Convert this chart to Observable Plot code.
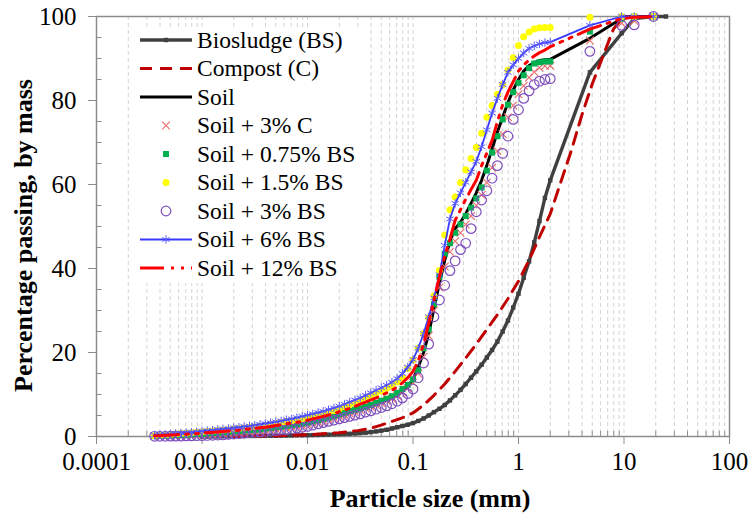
<!DOCTYPE html>
<html><head><meta charset="utf-8">
<script src="https://cdn.jsdelivr.net/npm/d3@7"></script>
<script src="https://cdn.jsdelivr.net/npm/@observablehq/plot@0.6"></script>
<style>
body{margin:0;background:#fff;}
#wrap{position:relative;width:751px;height:518px;font-family:'Liberation Serif','Times New Roman',serif;}
#wrap svg, #wrap svg text{font-family:'Liberation Serif','Times New Roman',serif !important;}
#legend{position:absolute;left:130px;top:27px;}
</style></head><body><div id="wrap"></div>
<script>
// ---- DATA ----
// laser-diffraction particle sizes (mm)
const lsSize = [0.000355,0.000398,0.000447,0.000501,0.000562,0.000631,0.000708,0.000794,0.000891,0.001,
 0.00112,0.00126,0.00141,0.00158,0.00178,0.002,0.00224,0.00251,0.00282,0.00316,
 0.00355,0.00398,0.00447,0.00501,0.00562,0.00631,0.00708,0.00794,0.00891,0.01,
 0.0112,0.0126,0.0141,0.0158,0.0178,0.02,0.0224,0.0251,0.0282,0.0316,
 0.0355,0.0398,0.0447,0.0501,0.0562,0.0631,0.0708,0.0794,0.0891,0.1,
 0.112,0.126,0.141,0.158,0.178,0.2,0.224,0.251,0.282,0.316,
 0.355,0.398,0.447,0.501,0.562,0.631,0.708,0.794,0.891,1,
 1.12,1.26,1.41,1.58,1.78,2.0];
const sieveSize = [4.75, 9.5, 12.5, 19];

const bsSize = lsSize.slice(9);
const bsLaser = [0,0,0.02,0.03,0.05,0.06,0.08,0.1,0.11,0.12,
 0.13,0.14,0.15,0.17,0.18,0.2,0.22,0.24,0.26,0.28,
 0.3,0.33,0.36,0.4,0.45,0.5,0.55,0.6,0.65,0.72,
 0.8,0.9,1.05,1.2,1.4,1.6,1.9,2.2,2.5,2.8,
 3.2,3.7,4.3,5.0,5.8,6.6,7.5,8.6,9.8,11.1,
 12.5,14.0,15.5,17.1,18.8,20.6,22.6,25.0,27.6,30.7,
 34.0,37.8,41.7,46.2,51.3,56.8,61.0];
const bsSieveSize = [4.75, 9.5, 12.5, 19, 25];
const bsSieve = [86.7, 96.0, 99.5, 100, 100];

const compSize = [0.002,0.003,0.005,0.01,0.02,0.03,0.04,0.05,0.06,0.08,0.1,0.126,0.158,0.2,0.251,0.316,0.398,0.501,0.631,0.794,1,1.26,1.58,2,2.51,3.16,3.98,5.01,6.31,7.94,10,12.5,19];
const compVal = [0,0.1,0.2,0.4,0.9,1.4,2.0,2.7,3.4,4.5,5.6,7.5,9.8,12.5,15.5,18.7,22,25.5,29,32.8,37,42,47.5,53,60.5,68,76.5,84,90.5,97,100,100,100];

const soilLaser = [0.1,0.1,0.15,0.2,0.25,0.3,0.35,0.4,0.45,0.5,
 0.6,0.7,0.8,0.9,1.0,1.1,1.2,1.3,1.4,1.5,
 1.6,1.7,1.9,2.0,2.2,2.3,2.5,2.7,2.9,3.1,
 3.4,3.7,4.0,4.3,4.6,5.0,5.3,5.7,6.0,6.4,
 6.8,7.2,7.6,8.1,8.6,9.1,9.8,10.7,12.0,13.5,
 16.5,20.0,24.5,30.5,36.5,42.0,46.5,49.5,51.0,53.0,
 55.5,58.0,61.0,64.5,68.5,72.5,76.0,79.5,82.5,85.0,
 87.0,88.3,89.0,89.5,89.7,89.8];
const soilSieve = [94.8, 99.5, 100, 100];

const c3Laser = [0.1,0.1,0.15,0.2,0.2,0.25,0.3,0.35,0.4,0.45,
 0.5,0.55,0.6,0.7,0.8,0.9,1.0,1.1,1.2,1.3,
 1.4,1.5,1.7,1.8,2.0,2.1,2.3,2.5,2.7,2.9,
 3.2,3.5,3.8,4.1,4.4,4.8,5.1,5.5,5.9,6.3,
 6.7,7.1,7.5,8.0,8.5,9.0,9.7,10.5,11.5,12.8,
 15.0,19.0,24.0,30.0,35.5,40.5,44.0,46.5,48.5,50.5,
 52.5,55.0,57.5,60.5,64.0,68.0,72.0,76.0,78.8,81.5,
 83.5,85.5,86.8,87.8,88.2,88.3];
const c3Sieve = [94.3, 98.4, 99.0, 100];

const bs075Laser = [0.1,0.15,0.2,0.25,0.3,0.35,0.4,0.5,0.55,0.6,
 0.7,0.8,0.9,1.0,1.1,1.2,1.3,1.4,1.5,1.6,
 1.7,1.9,2.0,2.2,2.3,2.5,2.7,2.9,3.1,3.3,
 3.6,3.9,4.2,4.5,4.9,5.3,5.7,6.1,6.4,6.7,
 7.1,7.5,8.0,8.5,9.0,9.6,10.4,11.3,12.3,13.6,
 15.8,21.0,25.5,31.5,38.0,43.5,46.0,48.5,50.5,52.5,
 54.5,56.7,59.3,63.3,67.6,71.5,75.5,79.0,82.0,84.2,
 86.0,87.7,88.8,89.1,89.3,89.3];
const bs075Sieve = [96.4, 99.5, 100, 100];

const bs15Laser = [0.2,0.3,0.4,0.5,0.6,0.7,0.8,0.9,1.0,1.1,
 1.2,1.3,1.4,1.5,1.6,1.8,1.9,2.0,2.2,2.3,
 2.5,2.7,2.9,3.1,3.3,3.5,3.7,4.0,4.2,4.5,
 4.8,5.1,5.4,5.8,6.2,6.6,7.1,7.6,8.0,8.5,
 9.1,9.7,10.3,10.9,11.5,12.0,13.0,14.0,16.2,18.2,
 21.0,24.5,28.3,33.5,39.5,48.0,54.0,57.0,60.5,63.5,
 66.2,68.8,72.2,76.0,78.8,81.5,83.8,87.2,90.2,93.1,
 95.2,96.3,97.0,97.3,97.4,97.4];
const bs15Sieve = [99.8, 100, 100, 100];

const bs3Laser = [0.05,0.05,0.05,0.1,0.1,0.1,0.15,0.15,0.2,0.2,
 0.25,0.3,0.35,0.4,0.5,0.6,0.7,0.8,0.9,1.0,
 1.1,1.2,1.3,1.4,1.5,1.6,1.8,2.0,2.2,2.4,
 2.7,3.0,3.3,3.6,3.9,4.2,4.5,4.8,5.1,5.4,
 5.8,6.1,6.5,6.9,7.3,7.8,8.4,9.2,10.2,11.3,
 14.0,17.5,22.0,28.5,32.5,36.0,39.5,41.8,44.5,46.0,
 49.5,53.5,56.3,58.5,61.5,64.5,67.4,71.5,75.5,77.8,
 80.5,82.3,83.8,84.6,85.0,85.2];
const bs3Sieve = [91.7, 97.9, 98.0, 100];

const bs6Laser = [0.3,0.4,0.5,0.6,0.7,0.8,0.9,1.0,1.1,1.3,
 1.4,1.5,1.7,1.8,1.9,2.1,2.2,2.4,2.5,2.7,
 2.9,3.1,3.3,3.5,3.7,4.0,4.2,4.5,4.8,5.1,
 5.4,5.7,6.0,6.4,6.8,7.2,7.7,8.2,8.7,9.2,
 9.8,10.4,11.0,11.6,12.2,12.9,13.8,15.0,16.5,18.3,
 21.0,24.5,28.5,33.0,38.5,45.5,51.8,55.5,58.0,60.5,
 63.0,65.5,69.0,73.0,77.0,80.5,83.8,86.7,88.5,90.0,
 91.3,92.4,93.0,93.5,93.8,93.9];
const bs6Sieve = [97.9, 100, 100, 100];

const bs12Laser = [0.15,0.2,0.3,0.35,0.4,0.5,0.55,0.6,0.7,0.8,
 0.9,1.0,1.1,1.2,1.3,1.4,1.5,1.7,1.8,1.9,
 2.1,2.2,2.4,2.6,2.8,3.0,3.2,3.4,3.6,3.9,
 4.2,4.5,4.8,5.1,5.5,5.9,6.3,6.7,7.2,7.7,
 8.2,8.7,9.2,9.8,10.4,11.0,11.8,12.8,14.0,15.5,
 18.0,22.0,27.0,32.5,38.0,43.0,47.0,51.5,54.0,56.5,
 58.8,61.0,64.5,67.5,70.5,75.0,79.0,82.0,84.5,87.0,
 88.5,89.6,90.6,91.4,92.0,92.8];
const bs12Sieve = [97.0, 99.5, 99.8, 100];

const xTicks = [0.0001, 0.001, 0.01, 0.1, 1, 10, 100];
const xTickLabels = ["0.0001", "0.001", "0.01", "0.1", "1", "10", "100"];
const yTicks = [0, 20, 40, 60, 80, 100];
const legendLabels = ["Biosludge (BS)", "Compost (C)", "Soil", "Soil + 3% C", "Soil + 0.75% BS", "Soil + 1.5% BS", "Soil + 3% BS", "Soil + 6% BS", "Soil + 12% BS"];

// ---- build tables ----
const pts = (xs, ys) => xs.map((x, i) => ({x, y: ys[i]}));
const series = (laser, sieve) => pts(lsSize, laser).concat(pts(sieveSize, sieve));
const bsData = pts(bsSize, bsLaser).concat(pts(bsSieveSize, bsSieve));
const compData = pts(compSize, compVal);
const soilData = series(soilLaser, soilSieve);
const c3Data = series(c3Laser, c3Sieve);
const g075Data = series(bs075Laser, bs075Sieve);
const y15Data = series(bs15Laser, bs15Sieve);
const p3Data = series(bs3Laser, bs3Sieve);
const b6Data = series(bs6Laser, bs6Sieve);
const r12Data = series(bs12Laser, bs12Sieve);

// minor log ticks
const minorX = [];
for (let e = -4; e < 2; e++) for (let m = 2; m <= 9; m++) minorX.push(m * Math.pow(10, e));
const gridX = minorX.concat(xTicks.slice(1, -1));
const minorY = d3.range(5, 100, 5).filter(v => v % 20 !== 0);

const FONT = "'Liberation Serif', 'Times New Roman', serif";
const AX = "#8c8c8c";
const S = {
  bs: {stroke: "#404040", w: 3.4},
  comp: {stroke: "#C00000", w: 3, dash: "12,8"},
  soil: {stroke: "#000000", w: 3},
  c3: {color: "#E86A6A", r: 3.6},
  g: {color: "#00B050", r: 3.4},
  y: {color: "#FFFF00", r: 3.5},
  p: {color: "#7F4FBF", r: 4.8},
  b: {stroke: "#3A3AFF", w: 1.8, mark: "#5B5BFF"},
  r12: {stroke: "#FF0000", w: 3, dash: "24,7,3,7,3,7"}
};

const chart = Plot.plot({
  width: 751, height: 518,
  marginLeft: 96, marginRight: 22, marginTop: 16, marginBottom: 82,
  x: {type: "log", domain: [1e-4, 100]},
  y: {domain: [0, 100]},
  style: {fontFamily: FONT, fontSize: "25px", color: "#000", background: "#fff", overflow: "visible"},
  marks: [
    Plot.ruleX(gridX, {stroke: "#d4d4d4", strokeDasharray: "4,3", strokeWidth: 1}),
    Plot.ruleX(minorX, {y1: 0, y2: 1.2, stroke: AX, strokeWidth: 1}),
    Plot.ruleY(minorY, {x1: 1e-4, x2: 1.13e-4, stroke: AX, strokeWidth: 1}),
    Plot.frame({stroke: AX, strokeWidth: 1.5}),
    Plot.axisX({ticks: xTicks, tickFormat: d => xTickLabels[xTicks.indexOf(d)], tickSize: 8, tickPadding: 8, stroke: AX, fill: "#000", fontSize: 25, fontFamily: FONT, label: null}),
    Plot.axisY({ticks: yTicks, tickSize: 8, tickPadding: 12, stroke: AX, fill: "#000", fontSize: 25, fontFamily: FONT, label: null}),
    // Biosludge
    Plot.line(bsData, {x: "x", y: "y", stroke: S.bs.stroke, strokeWidth: S.bs.w}),
    Plot.dot(bsData, {x: "x", y: "y", symbol: "square", fill: S.bs.stroke, r: 2.5}),
    // Compost
    Plot.line(compData, {x: "x", y: "y", stroke: S.comp.stroke, strokeWidth: S.comp.w, strokeDasharray: S.comp.dash}),
    // Soil
    Plot.line(soilData, {x: "x", y: "y", stroke: S.soil.stroke, strokeWidth: S.soil.w}),
    // Soil + 3% C
    Plot.dot(c3Data, {x: "x", y: "y", symbol: "times", stroke: S.c3.color, strokeWidth: 1.1, r: S.c3.r}),
    // Soil + 0.75% BS
    Plot.dot(g075Data, {x: "x", y: "y", symbol: "square", fill: S.g.color, r: S.g.r}),
    // Soil + 1.5% BS
    Plot.dot(y15Data, {x: "x", y: "y", symbol: "circle", fill: S.y.color, r: S.y.r}),
    // Soil + 3% BS
    Plot.dot(p3Data, {x: "x", y: "y", symbol: "circle", fill: "none", stroke: S.p.color, strokeWidth: 1.2, r: S.p.r}),
    // Soil + 6% BS
    Plot.line(b6Data, {x: "x", y: "y", stroke: S.b.stroke, strokeWidth: S.b.w}),
    Plot.dot(b6Data, {x: "x", y: "y", symbol: "asterisk", stroke: S.b.mark, strokeWidth: 1, r: 4}),
    // Soil + 12% BS
    Plot.line(r12Data, {x: "x", y: "y", stroke: S.r12.stroke, strokeWidth: S.r12.w, strokeDasharray: S.r12.dash}),
    // axis titles
    Plot.text(["Particle size (mm)"], {frameAnchor: "bottom", text: d => d, dx: 17, dy: 62, lineAnchor: "middle", textAnchor: "middle", fontWeight: "bold", fontSize: 26, fontFamily: FONT, fill: "#000"}),
    Plot.text(["Percentage passing, by mass"], {frameAnchor: "left", text: d => d, dx: -73, dy: 9, rotate: -90, lineAnchor: "middle", textAnchor: "middle", fontWeight: "bold", fontSize: 26, fontFamily: FONT, fill: "#000"})
  ]
});
const wrap = document.getElementById("wrap");
wrap.appendChild(chart);

// ---- legend (overlay inside plot area) ----
const LW = 235, LH = 256;
const lg = d3.select(wrap).append("svg").attr("id", "legend").attr("width", LW).attr("height", LH);
lg.append("rect").attr("width", LW).attr("height", LH).attr("fill", "#fff");
const sym = (type, r) => d3.symbol(type, Math.PI * r * r)();
legendLabels.forEach((label, i) => {
  const cy = 13 + 28.5 * i;
  const g = lg.append("g").attr("transform", `translate(0,${cy})`);
  const line = (st) => g.append("line").attr("x1", 10).attr("x2", 62).attr("y1", 0).attr("y2", 0)
      .attr("stroke", st.stroke).attr("stroke-width", st.w).attr("stroke-dasharray", st.dash || null);
  if (i === 0) { line(S.bs); g.append("path").attr("d", sym(d3.symbolSquare, 2.5)).attr("transform", "translate(36,0)").attr("fill", S.bs.stroke); }
  if (i === 1) line(S.comp);
  if (i === 2) line(S.soil);
  if (i === 3) g.append("path").attr("d", sym(d3.symbolTimes, S.c3.r)).attr("transform", "translate(36,0)").attr("fill", "none").attr("stroke", S.c3.color).attr("stroke-width", 1.1);
  if (i === 4) g.append("path").attr("d", sym(d3.symbolSquare, S.g.r)).attr("transform", "translate(36,0)").attr("fill", S.g.color);
  if (i === 5) g.append("path").attr("d", sym(d3.symbolCircle, S.y.r)).attr("transform", "translate(36,0)").attr("fill", S.y.color);
  if (i === 6) g.append("path").attr("d", sym(d3.symbolCircle, S.p.r)).attr("transform", "translate(36,0)").attr("fill", "none").attr("stroke", S.p.color).attr("stroke-width", 1.2);
  if (i === 7) { line(S.b); g.append("path").attr("d", sym(d3.symbolAsterisk, 4)).attr("transform", "translate(36,0)").attr("fill", "none").attr("stroke", S.b.mark).attr("stroke-width", 1); }
  if (i === 8) line(S.r12);
  g.append("text").attr("x", 67).attr("y", 7.5).attr("font-size", 23.5).attr("fill", "#000")
    .style("font-family", FONT).text(label);
});
</script></body></html>
